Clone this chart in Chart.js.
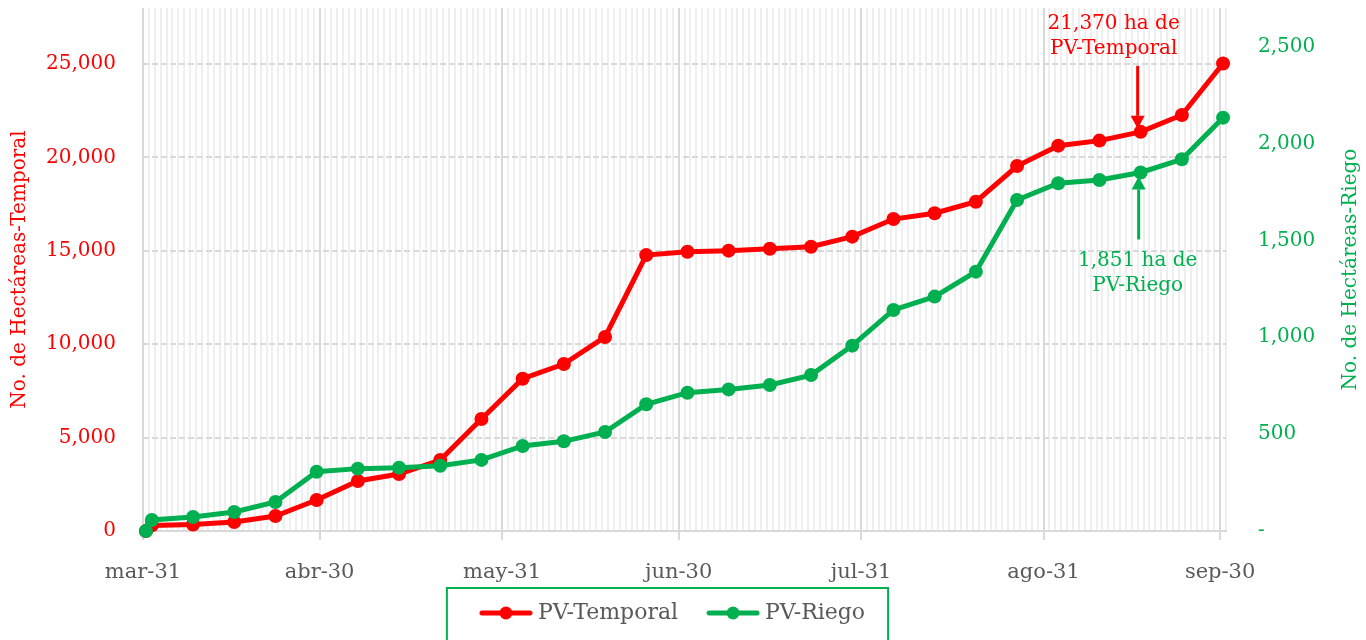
<!DOCTYPE html>
<html>
<head>
<meta charset="utf-8">
<script src="https://cdn.jsdelivr.net/npm/chart.js@4.4.1/dist/chart.umd.min.js"></script>
<style>
  html, body { margin: 0; padding: 0; background: #fff; }
  #wrap { width: 1366px; height: 640px; position: relative; }
</style>
</head>
<body>
<div id="wrap"><canvas id="grafica"></canvas></div>
<script>
// fechas de corte (semanales, a mediodia)
const fechas = [
  '2021-03-31', '2021-04-01', '2021-04-08', '2021-04-15', '2021-04-22', '2021-04-29',
  '2021-05-06', '2021-05-13', '2021-05-20', '2021-05-27', '2021-06-03', '2021-06-10',
  '2021-06-17', '2021-06-24', '2021-07-01', '2021-07-08', '2021-07-15', '2021-07-22',
  '2021-07-29', '2021-08-05', '2021-08-12', '2021-08-19', '2021-08-26', '2021-09-02',
  '2021-09-09', '2021-09-16', '2021-09-23', '2021-09-30'
];
const horaCorte = 12;
const temporal = [
  0, 300, 350, 480, 800, 1660, 2680, 3050, 3800, 6000, 8150, 8940, 10390, 14770,
  14950, 15010, 15110, 15220, 15760, 16700, 17010, 17630, 19540, 20630, 20900, 21370,
  22270, 25030
];
const riego = [
  0, 57, 72, 98, 150, 306, 322, 327, 337, 367, 439, 463, 511, 654,
  714, 731, 754, 805, 957, 1141, 1210, 1339, 1709, 1795, 1812, 1851,
  1919, 2134
];
const fechasEje = ['2021-03-31', '2021-04-30', '2021-05-31', '2021-06-30', '2021-07-31', '2021-08-31', '2021-09-30'];
const etiquetasEje = ['mar-31', 'abr-30', 'may-31', 'jun-30', 'jul-31', 'ago-31', 'sep-30'];
const ticksTemporal = [0, 5000, 10000, 15000, 20000, 25000];
const ticksRiego = [0, 500, 1000, 1500, 2000, 2500];
const fechaNota = '2021-09-16';

const rojo = '#ff0000';
const verde = '#00b050';
const gris = '#595959';
const fuente = '"DejaVu Serif", serif';

const inicio = Date.UTC(2021, 2, 31);
function diaDe(f, hora) {
  const [y, m, d] = f.split('-').map(Number);
  return (Date.UTC(y, m - 1, d, hora || 0) - inicio) / 86400000;
}
const dias = fechas.map(f => diaDe(f, horaCorte));
const diasEje = fechasEje.map(f => diaDe(f));
const todosLosDias = [];
for (let i = 0; i <= 184; i++) todosLosDias.push(i);
const idxNota = fechas.indexOf(fechaNota);

// linea con punto para la leyenda (espacio vacio a la izquierda)
function marcador(color) {
  const c = document.createElement('canvas');
  c.width = 72; c.height = 16;
  const g = c.getContext('2d');
  g.strokeStyle = color; g.lineWidth = 5; g.lineCap = 'round';
  g.beginPath(); g.moveTo(21, 8); g.lineTo(69, 8); g.stroke();
  g.fillStyle = color;
  g.beginPath(); g.arc(45, 8, 6.5, 0, Math.PI * 2); g.fill();
  return c;
}

function flecha(ctx, x, yDesde, yPunta, color) {
  const dir = yPunta > yDesde ? 1 : -1;
  const cab = 13;
  ctx.strokeStyle = color; ctx.fillStyle = color; ctx.lineWidth = 3;
  ctx.beginPath(); ctx.moveTo(x, yDesde); ctx.lineTo(x, yPunta - dir * cab); ctx.stroke();
  ctx.beginPath();
  ctx.moveTo(x, yPunta);
  ctx.lineTo(x - 7, yPunta - dir * cab);
  ctx.lineTo(x + 7, yPunta - dir * cab);
  ctx.closePath(); ctx.fill();
}

const extras = {
  id: 'extras',
  afterDatasetsDraw(chart) {
    const ctx = chart.ctx;
    const pR = chart.getDatasetMeta(0).data[idxNota];
    const pG = chart.getDatasetMeta(1).data[idxNota];
    ctx.save();
    ctx.font = '20px ' + fuente;
    ctx.textAlign = 'center';
    ctx.textBaseline = 'middle';
    ctx.fillStyle = rojo;
    ctx.fillText(temporal[idxNota].toLocaleString('en-US') + ' ha de', pR.x - 27, pR.y - 108);
    ctx.fillText('PV-Temporal', pR.x - 27, pR.y - 83);
    flecha(ctx, pR.x - 3, pR.y - 66, pR.y - 3, rojo);
    ctx.fillStyle = verde;
    ctx.fillText(riego[idxNota].toLocaleString('en-US') + ' ha de', pG.x - 3, pG.y + 88);
    ctx.fillText('PV-Riego', pG.x - 3, pG.y + 113);
    flecha(ctx, pG.x - 2, pG.y + 67, pG.y + 4, verde);
    ctx.restore();
  },
  afterDraw(chart) {
    const ctx = chart.ctx;
    const area = chart.chartArea;
    ctx.save();
    // titulo del eje derecho (de abajo hacia arriba)
    ctx.translate(chart.width - 15, (area.top + area.bottom) / 2);
    ctx.rotate(-Math.PI / 2);
    ctx.font = '20px ' + fuente;
    ctx.fillStyle = verde;
    ctx.textAlign = 'center';
    ctx.textBaseline = 'middle';
    ctx.fillText('No. de Hectáreas-Riego', 0, 0);
    ctx.restore();
    // recuadro de la leyenda
    const hb = chart.legend.legendHitBoxes;
    if (hb && hb.length) {
      const a = hb[0], b = hb[hb.length - 1];
      const yc = a.top + a.height / 2;
      const x0 = a.left + 12 - 32;
      const x1 = b.left + b.width + 23;
      ctx.save();
      ctx.strokeStyle = verde;
      ctx.lineWidth = 2;
      ctx.strokeRect(x0, yc - 25, x1 - x0, 90);
      ctx.restore();
    }
  }
};

function sinRelleno(s) { s.paddingTop = 0; s.paddingBottom = 0; }

Chart.defaults.font.family = fuente;

new Chart(document.getElementById('grafica'), {
  type: 'line',
  data: {
    datasets: [
      {
        label: 'PV-Temporal',
        data: dias.map((d, i) => ({ x: d, y: temporal[i] })),
        borderColor: rojo,
        backgroundColor: rojo,
        borderWidth: 5,
        pointRadius: 7,
        pointBorderWidth: 0,
        yAxisID: 'y',
        xAxisID: 'x',
        order: 1,
        clip: false
      },
      {
        label: 'PV-Riego',
        data: dias.map((d, i) => ({ x: d, y: riego[i] })),
        borderColor: verde,
        backgroundColor: verde,
        borderWidth: 5,
        pointRadius: 7,
        pointBorderWidth: 0,
        yAxisID: 'y1',
        xAxisID: 'x',
        order: 0,
        clip: false
      }
    ]
  },
  options: {
    responsive: true,
    maintainAspectRatio: false,
    animation: false,
    layout: { autoPadding: false, padding: { top: 8, bottom: 6, left: 0, right: 34 } },
    plugins: {
      tooltip: { enabled: false },
      legend: {
        position: 'bottom',
        labels: {
          usePointStyle: true,
          pointStyleWidth: 60,
          padding: 16,
          color: gris,
          font: { size: 22 },
          sort: (a, b) => a.datasetIndex - b.datasetIndex,
          generateLabels(chart) {
            const items = Chart.defaults.plugins.legend.labels.generateLabels(chart);
            items.forEach(it => {
              it.pointStyle = marcador(chart.data.datasets[it.datasetIndex].borderColor);
            });
            return items;
          }
        }
      }
    },
    scales: {
      xDia: {
        type: 'linear',
        position: 'bottom',
        min: 0,
        max: 184,
        z: -1,
        afterBuildTicks: s => { s.ticks = todosLosDias.map(v => ({ value: v })); },
        ticks: { display: false },
        grid: { color: '#efefef', lineWidth: 2, drawTicks: false },
        border: { display: false },
        afterFit: s => { s.height = 0; }
      },
      x: {
        type: 'linear',
        position: 'bottom',
        min: 0,
        max: 184,
        afterBuildTicks: s => { s.ticks = diasEje.map(v => ({ value: v })); },
        ticks: {
          autoSkip: false,
          maxRotation: 0,
          color: gris,
          font: { size: 21 },
          padding: 20,
          callback: (v, i) => etiquetasEje[i]
        },
        grid: { color: '#d9d9d9', lineWidth: 2, tickLength: 9, tickColor: '#d9d9d9' },
        border: { color: '#d9d9d9', width: 2 },
        afterFit: s => { s.height = 55; }
      },
      y: {
        position: 'left',
        min: 0,
        max: 28000,
        afterBuildTicks: s => { s.ticks = ticksTemporal.map(v => ({ value: v })); },
        ticks: {
          color: rojo,
          font: { size: 20 },
          padding: 27,
          callback: v => v.toLocaleString('en-US')
        },
        grid: { color: '#d9d9d9', lineWidth: 2, drawTicks: false },
        border: { display: false, dash: [6, 3] },
        title: {
          display: true,
          text: 'No. de Hectáreas-Temporal',
          color: rojo,
          font: { size: 20 },
          padding: { top: 8, bottom: 0 }
        },
        afterFit: s => { s.width = 143; sinRelleno(s); }
      },
      y1: {
        position: 'right',
        min: 0,
        max: 2700,
        afterBuildTicks: s => { s.ticks = ticksRiego.map(v => ({ value: v })); },
        ticks: {
          color: verde,
          font: { size: 20 },
          padding: 32,
          callback: v => v === 0 ? '-' : v.toLocaleString('en-US')
        },
        grid: { display: false, drawTicks: false },
        border: { display: false },
        afterFit: s => { s.width = 106; sinRelleno(s); }
      }
    }
  },
  plugins: [extras]
});
</script>
</body>
</html>
